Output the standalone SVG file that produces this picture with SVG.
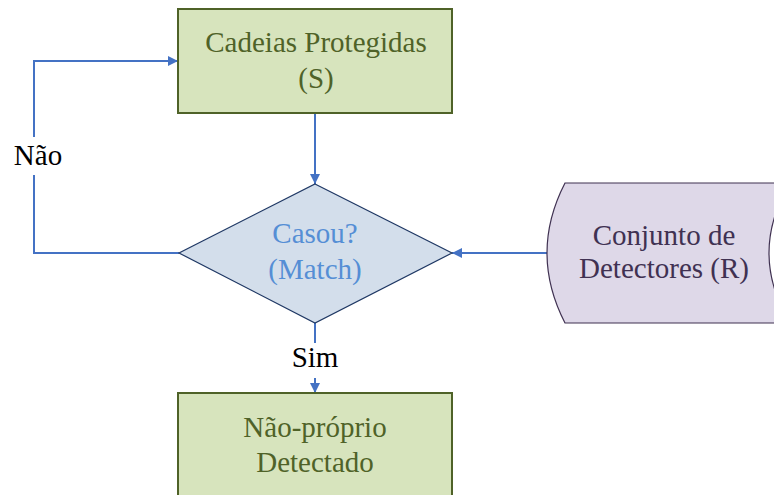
<svg xmlns="http://www.w3.org/2000/svg" width="774" height="495" viewBox="0 0 774 495">
<defs>
<style>
text{font-family:"Liberation Serif","Times New Roman",serif;font-size:29px;text-anchor:middle}
.box{fill:#D7E4BD;stroke:#4F6228;stroke-width:2}
.boxt{fill:#4F6228}
.dia{fill:#D3DEEB;stroke:#1F3864;stroke-width:1.2}
.diat{fill:#558ED5}
.store{fill:#DED8E8;stroke:#3F3151;stroke-width:1.2}
.storet{fill:#403152}
.lbl{fill:#000}
.conn{fill:none;stroke:#4472C4;stroke-width:2}
</style>
<marker id="ah" viewBox="0 0 10 10" refX="10" refY="5" markerWidth="10" markerHeight="10" markerUnits="userSpaceOnUse" orient="auto">
<path d="M0,0 L10,5 L0,10 Z" fill="#4472C4"/>
</marker>
</defs>
<g id="connectors">
<path class="conn" d="M315,113 L315,184" marker-end="url(#ah)"/>
<path class="conn" d="M315,323 L315,343"/>
<path class="conn" d="M315,378 L315,393" marker-end="url(#ah)"/>
<path class="conn" d="M179,253 L34,253 L34,175"/>
<path class="conn" d="M34,137 L34,61 L178,61" marker-end="url(#ah)"/>
<path class="conn" d="M547,253 L452,253" marker-end="url(#ah)"/>
<text class="lbl" x="315" y="367">Sim</text>
<text class="lbl" x="38" y="165">Não</text>
</g>
<g id="protegidas">
<rect class="box" x="178" y="9" width="274" height="104"/>
<text class="boxt" x="316" y="52">Cadeias Protegidas</text>
<text class="boxt" x="316" y="88">(S)</text>
</g>
<g id="casou">
<path class="dia" d="M315,184 L452,253 L315,323 L179,253 Z"/>
<text class="diat" x="315" y="243">Casou?</text>
<text class="diat" x="315" y="279">(Match)</text>
</g>
<g id="detectores">
<path class="store" d="M565,183 L790,183 Q748,253 790,323 L565,323 Q529,253 565,183 Z"/>
<text class="storet" x="664" y="245">Conjunto de</text>
<text class="storet" x="664" y="278">Detectores (R)</text>
</g>
<g id="naoproprio">
<rect class="box" x="178" y="393" width="274" height="110"/>
<text class="boxt" x="315" y="437">Não-próprio</text>
<text class="boxt" x="315" y="472">Detectado</text>
</g>
</svg>
